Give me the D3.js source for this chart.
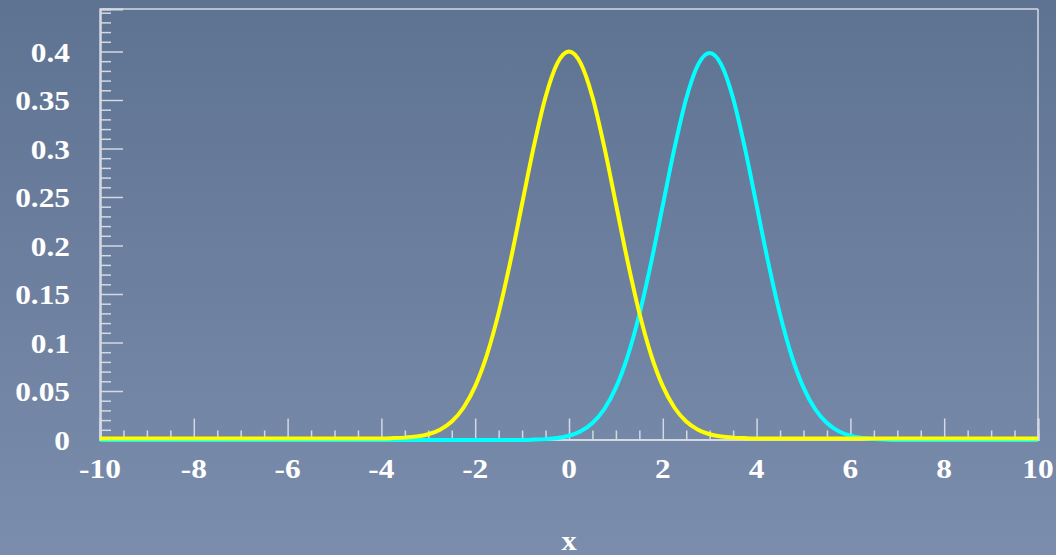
<!DOCTYPE html>
<html>
<head>
<meta charset="utf-8">
<script src="https://cdn.jsdelivr.net/npm/d3@7"></script>
<style>
html,body{margin:0;padding:0;}
body{width:1056px;height:555px;overflow:hidden;}
</style>
</head>
<body>
<svg id="chart" width="1056" height="555"></svg>
<script>
// ---- data ----
const yellowX = [-10, -5, -4, -3.75, -3.5, -3.25, -3, -2.75, -2.5, -2.25, -2, -1.75, -1.5, -1.25, -1, -0.75, -0.5, -0.25, 0, 0.25, 0.5, 0.75, 1, 1.25, 1.5, 1.75, 2, 2.25, 2.5, 2.75, 3, 3.25, 3.5, 3.75, 4, 5, 10];
const yellowY = [0, 0, 0.0001, 0.0004, 0.0009, 0.0020, 0.0044, 0.0091, 0.0175, 0.0317, 0.0540, 0.0863, 0.1295, 0.1826, 0.2420, 0.3011, 0.3521, 0.3867, 0.3989, 0.3867, 0.3521, 0.3011, 0.2420, 0.1826, 0.1295, 0.0863, 0.0540, 0.0317, 0.0175, 0.0091, 0.0044, 0.0020, 0.0009, 0.0004, 0.0001, 0, 0];
const cyanX = [-10, -2, -1, -0.75, -0.5, -0.25, 0, 0.25, 0.5, 0.75, 1, 1.25, 1.5, 1.75, 2, 2.25, 2.5, 2.75, 3, 3.25, 3.5, 3.75, 4, 4.25, 4.5, 4.75, 5, 5.25, 5.5, 5.75, 6, 6.25, 6.5, 6.75, 7, 8, 10];
const cyanY = [0, 0, 0.0001, 0.0004, 0.0009, 0.0020, 0.0044, 0.0091, 0.0175, 0.0317, 0.0540, 0.0863, 0.1295, 0.1826, 0.2420, 0.3011, 0.3521, 0.3867, 0.3989, 0.3867, 0.3521, 0.3011, 0.2420, 0.1826, 0.1295, 0.0863, 0.0540, 0.0317, 0.0175, 0.0091, 0.0044, 0.0020, 0.0009, 0.0004, 0.0001, 0, 0];
const xMajorTicks = [-10, -8, -6, -4, -2, 0, 2, 4, 6, 8, 10];
const yMajorTicks = [0, 0.05, 0.1, 0.15, 0.2, 0.25, 0.3, 0.35, 0.4];
const yTickLabels = ["0", "0.05", "0.1", "0.15", "0.2", "0.25", "0.3", "0.35", "0.4"];
const xLabel = "x";

// ---- drawing ----
const svg = d3.select("#chart");
const W = 1056, H = 555;
const defs = svg.append("defs");
const grad = defs.append("linearGradient").attr("id","bg").attr("x1",0).attr("y1",0).attr("x2",0).attr("y2",1);
grad.append("stop").attr("offset","0%").attr("stop-color","#5e7291");
grad.append("stop").attr("offset","100%").attr("stop-color","#7b8dad");
svg.append("rect").attr("width",W).attr("height",H).attr("fill","url(#bg)");

const x = d3.scaleLinear().domain([-10, 10]).range([100, 1038]);
const y = d3.scaleLinear().domain([0, 0.4438]).range([439.5, 9]);

const axisColor = "#d4d9e4";
const font = "'Liberation Serif', 'Times New Roman', serif";
const SX = 1.12;

// frame top and right
svg.append("line").attr("x1", x(-10)).attr("x2", x(10)).attr("y1", y.range()[1]).attr("y2", y.range()[1])
  .attr("stroke", axisColor).attr("stroke-width", 1.5);
svg.append("line").attr("x1", x(10)).attr("x2", x(10)).attr("y1", y.range()[1]).attr("y2", y(0))
  .attr("stroke", axisColor).attr("stroke-width", 1.5);

// y axis ticks
const yMinor = d3.range(0, 45).map(i => i / 100).filter(v => Math.round(v * 100) % 5 !== 0);
const yAxisMinor = svg.append("g").attr("transform", `translate(${x(-10)},0)`)
  .call(d3.axisRight(y).tickValues(yMinor).tickSize(11).tickFormat(""));
const yAxisMajor = svg.append("g").attr("transform", `translate(${x(-10)},0)`)
  .call(d3.axisRight(y).tickValues(yMajorTicks).tickSize(23).tickFormat(""));
[yAxisMinor, yAxisMajor].forEach(g => {
  g.selectAll(".domain").attr("stroke", axisColor).attr("stroke-width", 2);
  g.selectAll(".tick line").attr("stroke", axisColor).attr("stroke-width", 1.5);
});
// y labels
svg.append("g").selectAll("text").data(yMajorTicks).join("text")
  .attr("transform", d => `translate(70,${y(d)}) scale(${SX},1)`).attr("dy", "0.36em")
  .attr("text-anchor", "end").attr("fill", "#ffffff")
  .attr("font-family", font).attr("font-weight", "bold").attr("font-size", 28)
  .text((d, i) => yTickLabels[i]);

// x axis ticks (pointing up, inward)
const xMinor = d3.range(-10, 10.01, 0.5).filter(v => Math.abs(v % 2) > 1e-9);
const xAxisMinor = svg.append("g").attr("transform", `translate(0,${y(0)})`)
  .call(d3.axisTop(x).tickValues(xMinor).tickSize(9).tickFormat(""));
const xAxisMajor = svg.append("g").attr("transform", `translate(0,${y(0)})`)
  .call(d3.axisTop(x).tickValues(xMajorTicks).tickSize(21).tickFormat(""));
[xAxisMinor, xAxisMajor].forEach(g => {
  g.selectAll(".domain").attr("stroke", axisColor).attr("stroke-width", 2);
  g.selectAll(".tick line").attr("stroke", axisColor).attr("stroke-width", 1.5);
});
svg.append("g").selectAll("text").data(xMajorTicks).join("text")
  .attr("transform", d => `translate(${x(d)},478) scale(${SX},1)`)
  .attr("text-anchor", "middle").attr("fill", "#ffffff")
  .attr("font-family", font).attr("font-weight", "bold").attr("font-size", 28)
  .text(d => d);

svg.append("text").attr("transform", `translate(${x(0)},550) scale(${SX},1)`).attr("text-anchor", "middle")
  .attr("fill", "#ffffff").attr("font-family", font).attr("font-weight", "bold").attr("font-size", 27)
  .text(xLabel);

// curves
const line = d3.line().x(d => x(d[0])).y(d => y(d[1])).curve(d3.curveMonotoneX);
const cyanData = cyanX.map((v, i) => [v, cyanY[i]]);
const yellowData = yellowX.map((v, i) => [v, yellowY[i]]);
svg.append("path").datum(cyanData).attr("d", line).attr("fill", "none")
  .attr("stroke", "#00ffff").attr("stroke-width", 4).attr("transform", "translate(0,0.5)");
svg.append("path").datum(yellowData).attr("d", line).attr("fill", "none")
  .attr("stroke", "#ffff00").attr("stroke-width", 4).attr("transform", "translate(0,-1)");
</script>
</body>
</html>
